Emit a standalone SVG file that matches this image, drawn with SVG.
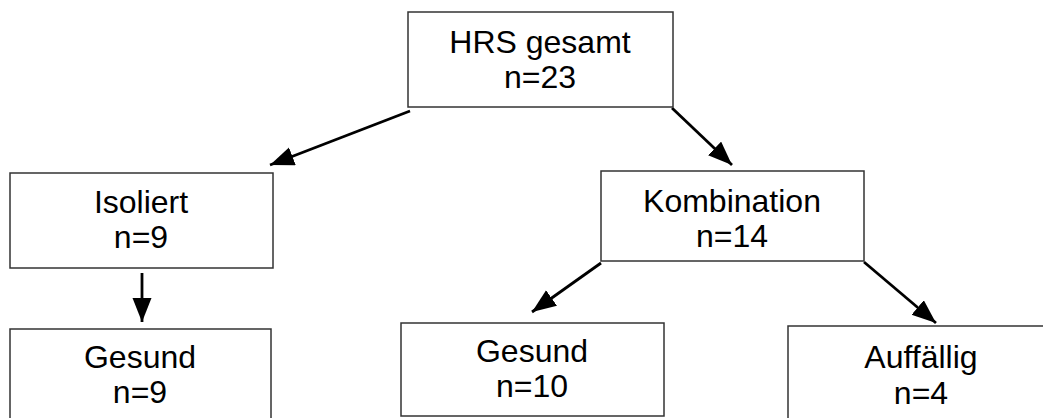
<svg xmlns="http://www.w3.org/2000/svg" width="1043" height="418" viewBox="0 0 1043 418">
<defs>
<style>
.box{fill:#fff;stroke:#333;stroke-width:1.5}
.t{font-family:"Liberation Sans",Arial,sans-serif;font-size:32px;fill:#000;text-anchor:middle}
.c{stroke:#000;stroke-width:2.8;fill:none}
</style>
<marker id="ah" markerUnits="userSpaceOnUse" markerWidth="26" markerHeight="20" refX="24" refY="9.5" orient="auto">
<path d="M0,0 L24,9.5 L0,19 Z" fill="#000"/>
</marker>
</defs>
<rect width="1043" height="418" fill="#fff"/>
<g id="connectors">
<line class="c" x1="410" y1="111" x2="270" y2="165" marker-end="url(#ah)"/>
<line class="c" x1="672" y1="108" x2="732" y2="165" marker-end="url(#ah)"/>
<line class="c" x1="142" y1="273" x2="142" y2="322" stroke-width="2" marker-end="url(#ah)"/>
<line class="c" x1="601" y1="263" x2="532" y2="312" marker-end="url(#ah)"/>
<line class="c" x1="864" y1="262" x2="936" y2="323" marker-end="url(#ah)"/>
</g>
<g id="hrs">
<rect class="box" x="408" y="12" width="265" height="95"/>
<text class="t" x="540" y="53">HRS gesamt</text>
<text class="t" x="540" y="88">n=23</text>
</g>
<g id="isoliert">
<rect class="box" x="10" y="173" width="263" height="95"/>
<text class="t" x="141" y="213">Isoliert</text>
<text class="t" x="141" y="248">n=9</text>
</g>
<g id="gesund1">
<rect class="box" x="10" y="329" width="261" height="100"/>
<text class="t" x="140" y="368">Gesund</text>
<text class="t" x="140" y="403">n=9</text>
</g>
<g id="kombination">
<rect class="box" x="601" y="171" width="263" height="90"/>
<text class="t" x="732" y="212">Kombination</text>
<text class="t" x="732" y="247">n=14</text>
</g>
<g id="gesund2">
<rect class="box" x="401" y="323" width="263" height="93"/>
<text class="t" x="532" y="362">Gesund</text>
<text class="t" x="532" y="397">n=10</text>
</g>
<g id="auffaellig">
<rect class="box" x="788" y="326" width="266" height="100"/>
<text class="t" x="921" y="368">Auffällig</text>
<text class="t" x="921" y="404">n=4</text>
</g>
</svg>
